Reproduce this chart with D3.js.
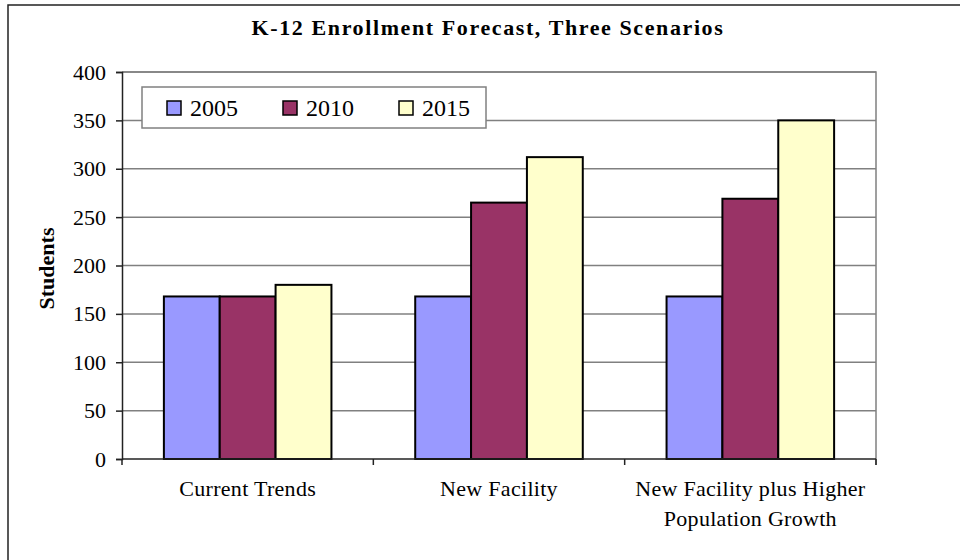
<!DOCTYPE html>
<html>
<head>
<meta charset="utf-8">
<script src="https://cdn.jsdelivr.net/npm/d3@7"></script>
<style>
  body { margin: 0; background: #fff; }
  svg text { font-family: "Liberation Serif", "Times New Roman", Times, serif !important; fill: #000; }
</style>
</head>
<body>
<svg id="chart" width="960" height="560"></svg>
<script>
const categories = ['Current Trends', 'New Facility', 'New Facility plus Higher Population Growth'];
const years = ['2005', '2010', '2015'];
const values2005 = [168, 168, 168];
const values2010 = [168, 265, 269];
const values2015 = [180, 312, 350];
const yTicks = [0, 50, 100, 150, 200, 250, 300, 350, 400];
const colors = ['#9999ff', '#993366', '#ffffcc'];

const seriesValues = [values2005, values2010, values2015];
const data = categories.map((c, i) => ({
  category: c,
  values: years.map((yr, j) => ({year: yr, value: seriesValues[j][i]}))
}));

const svg = d3.select('#chart');
const plot = {left: 122, right: 876, top: 72, bottom: 459};

// chart area border (runs off the right and bottom of the picture)
svg.append('path')
  .attr('d', 'M8,562 L8,5 L962,5')
  .attr('fill', 'none')
  .attr('stroke', '#222')
  .attr('stroke-width', 1.5);

svg.append('text')
  .attr('x', 488)
  .attr('y', 35)
  .attr('text-anchor', 'middle')
  .style('font-weight', 'bold')
  .style('font-size', '22px')
  .style('letter-spacing', '1.6px')
  .text('K-12 Enrollment Forecast, Three Scenarios');

const x = d3.scaleBand().domain(categories).range([plot.left, plot.right]).padding(0);
const xInner = d3.scaleBand().domain(years).range([0, x.bandwidth()]).paddingInner(0).paddingOuter(0.75);
const y = d3.scaleLinear().domain([0, 400]).range([plot.bottom, plot.top]);
const color = d3.scaleOrdinal().domain(years).range(colors);

// gridlines
svg.append('g')
  .selectAll('line')
  .data(yTicks.filter(d => d > 0))
  .enter().append('line')
  .attr('x1', plot.left)
  .attr('x2', plot.right)
  .attr('y1', d => y(d))
  .attr('y2', d => y(d))
  .attr('stroke', '#808080')
  .attr('stroke-width', 1.5);

// plot area border, top and right
svg.append('path')
  .attr('d', `M${plot.left},${plot.top} L${plot.right},${plot.top} L${plot.right},${plot.bottom + 6}`)
  .attr('fill', 'none')
  .attr('stroke', '#808080')
  .attr('stroke-width', 1.5);

// bars
const groups = svg.append('g')
  .selectAll('g')
  .data(data)
  .enter().append('g')
  .attr('transform', d => 'translate(' + x(d.category) + ',0)');

groups.selectAll('rect')
  .data(d => d.values)
  .enter().append('rect')
  .attr('x', d => xInner(d.year))
  .attr('width', xInner.bandwidth())
  .attr('y', d => y(d.value))
  .attr('height', d => y(0) - y(d.value))
  .attr('fill', d => color(d.year))
  .attr('stroke', '#000')
  .attr('stroke-width', 2);

// y axis
const yAxis = d3.axisLeft(y).tickValues(yTicks).tickSize(6).tickPadding(10);
const yg = svg.append('g')
  .attr('transform', 'translate(' + plot.left + ',0)')
  .call(yAxis)
  .attr('font-family', '"Liberation Serif", "Times New Roman", serif')
  .attr('font-size', 22);
yg.select('.domain').attr('stroke', '#222').attr('stroke-width', 1.5);
yg.selectAll('.tick line').attr('stroke', '#222').attr('stroke-width', 1.5);
yg.selectAll('.tick text').attr('fill', '#000');

// x axis with ticks at category boundaries
const boundaries = categories.map(c => x(c)).concat([x.range()[1]]);
const xg = svg.append('g');
xg.append('line')
  .attr('x1', plot.left)
  .attr('x2', plot.right)
  .attr('y1', plot.bottom)
  .attr('y2', plot.bottom)
  .attr('stroke', '#222')
  .attr('stroke-width', 1.5);
xg.selectAll('.xtick')
  .data(boundaries)
  .enter().append('line')
  .attr('class', 'xtick')
  .attr('x1', d => d)
  .attr('x2', d => d)
  .attr('y1', plot.bottom)
  .attr('y2', plot.bottom + 6)
  .attr('stroke', '#222')
  .attr('stroke-width', 1.5);

const xLabels = xg.selectAll('.xlabel')
  .data(categories)
  .enter().append('text')
  .attr('class', 'xlabel')
  .attr('x', d => x(d) + x.bandwidth() / 2)
  .attr('y', 496)
  .attr('text-anchor', 'middle')
  .style('font-size', '22px')
  .style('letter-spacing', '0.3px');

xLabels.each(function(d) {
  const text = d3.select(this);
  const words = d.split(' ');
  const maxWidth = x.bandwidth() - 10;
  let line = [];
  let tspan = text.append('tspan').attr('x', text.attr('x')).attr('dy', 0);
  words.forEach(w => {
    line.push(w);
    tspan.text(line.join(' '));
    if (tspan.node().getComputedTextLength() > maxWidth && line.length > 1) {
      line.pop();
      tspan.text(line.join(' '));
      line = [w];
      tspan = text.append('tspan').attr('x', text.attr('x')).attr('dy', 30).text(w);
    }
  });
});

// y axis title
svg.append('text')
  .attr('transform', 'translate(54,' + ((plot.top + plot.bottom) / 2 + 3) + ') rotate(-90)')
  .attr('text-anchor', 'middle')
  .style('font-weight', 'bold')
  .style('font-size', '22px')
  .text('Students');

// legend
const legend = svg.append('g').attr('transform', 'translate(142,87)');
legend.append('rect')
  .attr('width', 344)
  .attr('height', 41)
  .attr('fill', '#fff')
  .attr('stroke', '#808080')
  .attr('stroke-width', 1.5);

const items = legend.selectAll('.item')
  .data(years)
  .enter().append('g')
  .attr('class', 'item')
  .attr('transform', (d, i) => 'translate(' + (25 + i * 116) + ',0)');
items.append('rect')
  .attr('y', 14)
  .attr('width', 14)
  .attr('height', 14)
  .attr('fill', d => color(d))
  .attr('stroke', '#000')
  .attr('stroke-width', 1.5);
items.append('text')
  .attr('x', 23)
  .attr('y', 29)
  .style('font-size', '24px')
  .text(d => d);
</script>
</body>
</html>
